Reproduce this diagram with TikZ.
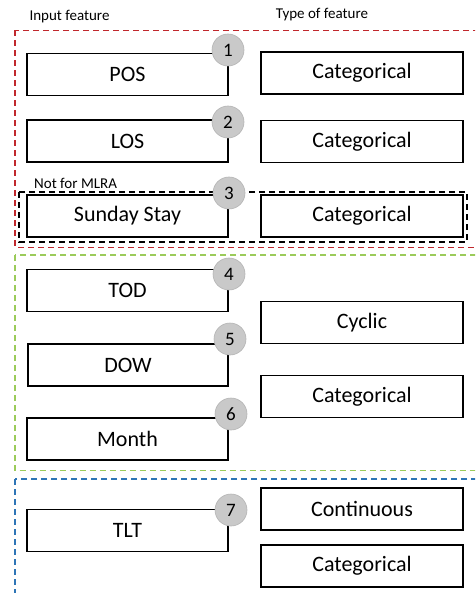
\documentclass[tikz,border=0pt]{standalone}
\usepackage{fontspec}
\setmainfont{Carlito}
\definecolor{grpred}{HTML}{C0282D}
\definecolor{grpgreen}{HTML}{9BCB5A}
\definecolor{grpblue}{HTML}{2E75B6}
\definecolor{badgefill}{HTML}{C9C9C9}
\definecolor{badgeedge}{HTML}{B5B5B5}
\begin{document}
\begin{tikzpicture}[x=1pt,y=-1pt,
  featbox/.style={draw=black,line width=1.8pt,minimum width=201pt,minimum height=42pt,
    inner sep=0pt,font=\fontsize{22}{24}\selectfont},
  badge/.style={circle,fill=badgefill,draw=badgeedge,line width=0.6pt,minimum size=32pt,
    inner sep=0pt,font=\fontsize{19}{21}\selectfont},
  grp/.style={line width=1.4pt,dash pattern=on 6pt off 4pt},
  caption/.style={font=\fontsize{15}{17}\selectfont,inner sep=0pt}]
\useasboundingbox (0,0) rectangle (475,593);
\clip (0,0) rectangle (475,593);
\fill[white] (0,0) rectangle (475,593);

% column headings
\node[caption] (hin) at (69.5,17) {Input feature};
\node[caption] (htype) at (322,15) {Type of feature};

% group frames
\draw[grp,grpred] (15,30.5) rectangle (485,247.5);
\draw[grp,grpgreen] (15,255) rectangle (485,470.5);
\draw[grp,grpblue] (15,479) rectangle (485,610);
\draw[grp,black] (19,192) rectangle (467,242);
\node[caption,anchor=west] (mlra) at (34,183) {Not for MLRA};

% input features
\node[featbox] (pos) at (127.5,74.5) {POS};
\node[featbox] (los) at (127.5,141) {LOS};
\node[featbox] (sun) at (127.5,216) {Sunday Stay};
\node[featbox] (tod) at (127.5,290.5) {TOD};
\node[featbox,minimum width=200pt] (dow) at (128,365) {DOW};
\node[featbox] (month) at (127.5,439) {Month};
\node[featbox] (tlt) at (127.5,530.5) {TLT};

% feature types
\node[featbox,minimum width=202pt] (t1) at (362,73) {Categorical};
\node[featbox,minimum width=202pt] (t2) at (362,141.5) {Categorical};
\node[featbox,minimum width=202pt] (t3) at (362,216) {Categorical};
\node[featbox,minimum width=202pt] (tcyc) at (362,322.5) {Cyclic};
\node[featbox,minimum width=202pt] (tcat) at (362,396.5) {Categorical};
\node[featbox,minimum width=202pt] (tcont) at (362,509) {Continuous};
\node[featbox,minimum width=202pt] (tcatb) at (362,566) {Categorical};

% numbered badges
\node[badge] (b1) at (228,50) {1};
\node[badge] (b2) at (228,122) {2};
\node[badge] (b3) at (229,193) {3};
\node[badge] (b4) at (229,274) {4};
\node[badge] (b5) at (230,339) {5};
\node[badge] (b6) at (231,414) {6};
\node[badge] (b7) at (231,510) {7};
\end{tikzpicture}
\end{document}
